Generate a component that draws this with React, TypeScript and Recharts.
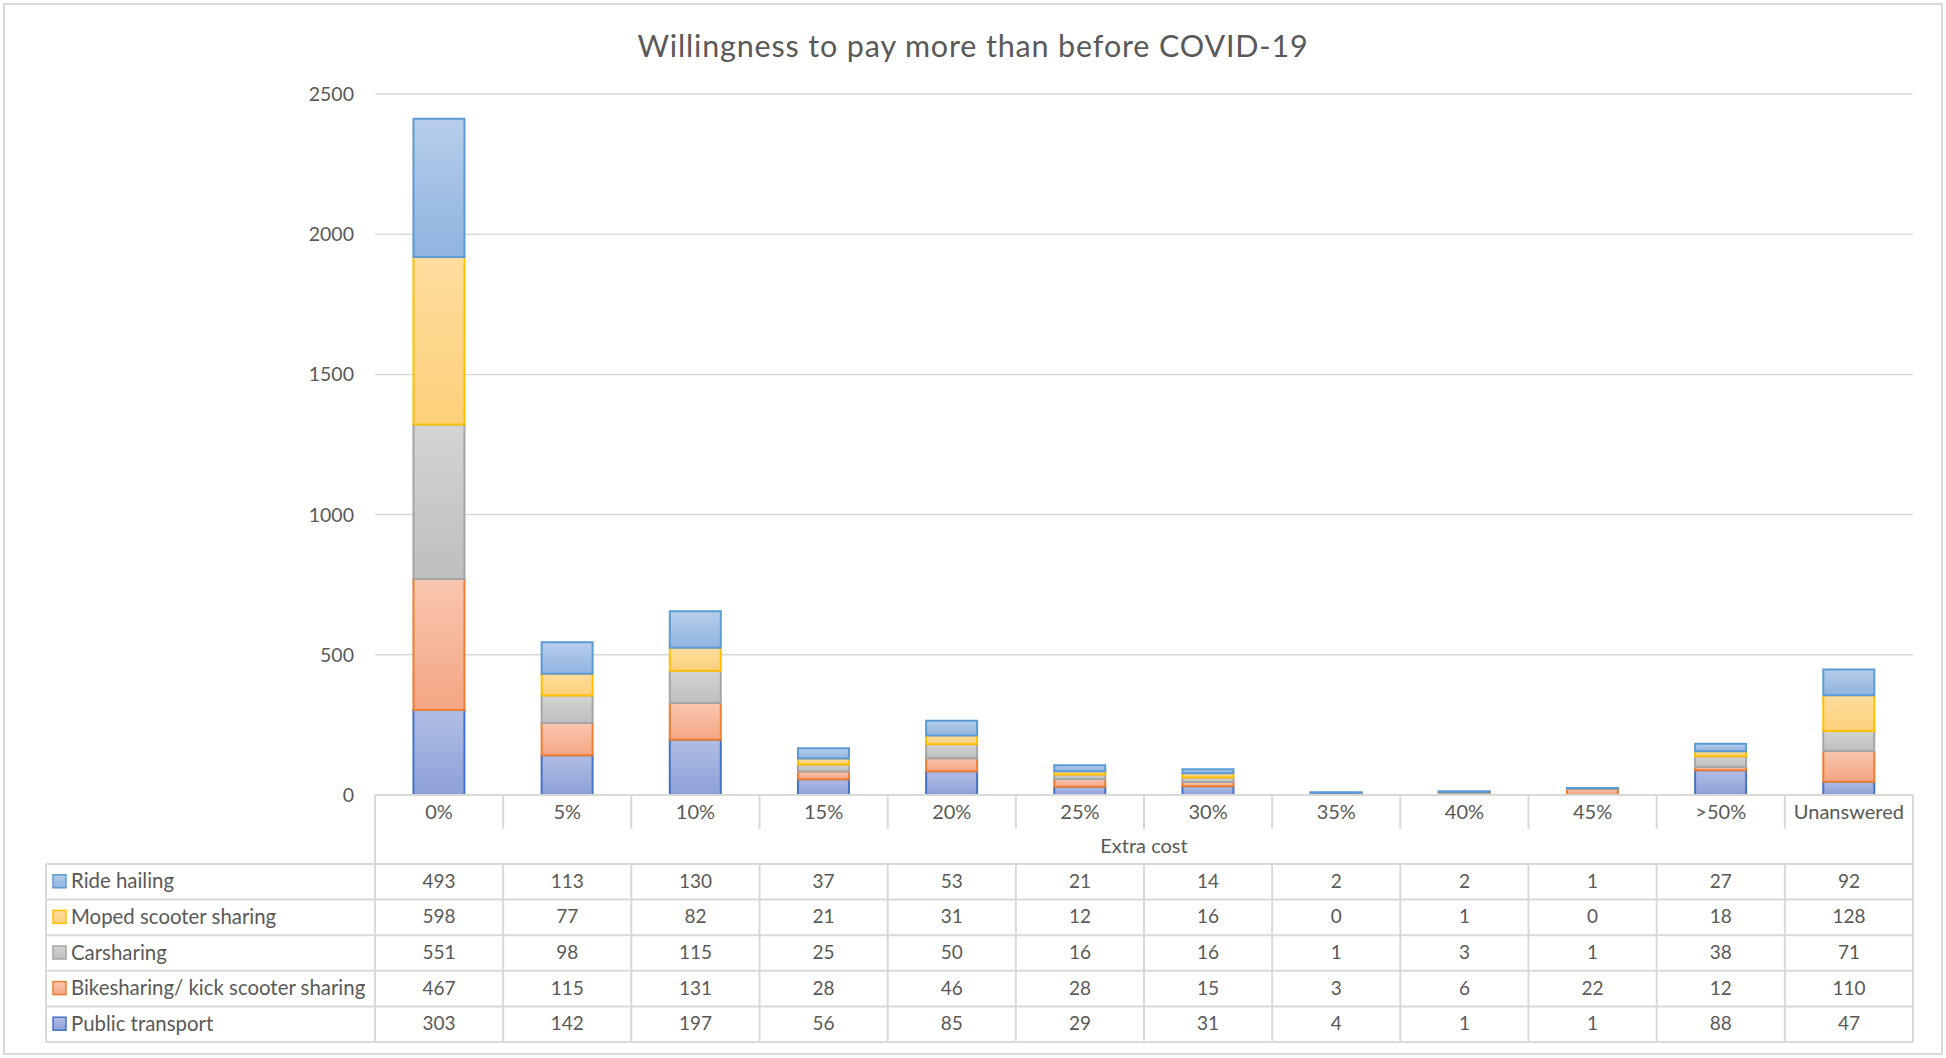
import { BarChart, Bar, XAxis, YAxis, CartesianGrid } from 'recharts';

const categories = ['0%', '5%', '10%', '15%', '20%', '25%', '30%', '35%', '40%', '45%', '>50%', 'Unanswered'];
const rideHailing = [493, 113, 130, 37, 53, 21, 14, 2, 2, 1, 27, 92];
const mopedSharing = [598, 77, 82, 21, 31, 12, 16, 0, 1, 0, 18, 128];
const carsharing = [551, 98, 115, 25, 50, 16, 16, 1, 3, 1, 38, 71];
const bikesharing = [467, 115, 131, 28, 46, 28, 15, 3, 6, 22, 12, 110];
const publicTransport = [303, 142, 197, 56, 85, 29, 31, 4, 1, 1, 88, 47];
const yTicks = [0, 500, 1000, 1500, 2000, 2500];

// stacking order, bottom to top
const series = [
    { key: 'pt', name: 'Public transport', values: publicTransport, stroke: '#4472C4', top: '#B0BDE4', bottom: '#8DA1D8' },
    { key: 'bike', name: 'Bikesharing/ kick scooter sharing', values: bikesharing, stroke: '#ED7D31', top: '#F9C7AF', bottom: '#F4A583' },
    { key: 'car', name: 'Carsharing', values: carsharing, stroke: '#A5A5A5', top: '#D4D4D4', bottom: '#BEBEBE' },
    { key: 'moped', name: 'Moped scooter sharing', values: mopedSharing, stroke: '#FFC000', top: '#FEDD9E', bottom: '#FDD07A' },
    { key: 'ride', name: 'Ride hailing', values: rideHailing, stroke: '#5B9BD5', top: '#B6CEEA', bottom: '#90B3E0' },
];
const tableRows = [...series].reverse();

const data = categories.map((cat, i) => {
    const row: any = { cat };
    series.forEach(s => { row[s.key] = s.values[i]; });
    return row;
});

const W = 1946;
const H = 1058;
const plotLeft = 375;
const plotRight = 1913;
const plotBottom = 795;
const band = (plotRight - plotLeft) / categories.length;
const tableTop = 864;
const rowH = 35.6;
const tableLeft = 46;
const tableBottom = tableTop + rowH * tableRows.length;
const grid = '#D9D9D9';
const textColor = '#595959';
const font = 'Lato, "Open Sans", sans-serif';

function CatTick(props: any) {
    const { x, payload, index } = props;
    const i = index ?? payload.index;
    const left = x - band / 2;
    return (
        <g>
            {i > 0 && <line x1={left} x2={left} y1={plotBottom} y2={829} stroke={grid} strokeWidth={2} />}
            {i > 0 && <line x1={left} x2={left} y1={tableTop} y2={tableBottom} stroke={grid} strokeWidth={2} />}
            <text x={x} y={811} textAnchor="middle" dominantBaseline="central" fill={textColor} fontSize={20} fontFamily={font}>
                {payload.value}
            </text>
            {tableRows.map((s, r) => (
                <text key={s.key} x={x} y={tableTop + rowH * r + rowH / 2 - 1.5} textAnchor="middle" dominantBaseline="central"
                    fill={textColor} fontSize={19} fontFamily={font}>
                    {s.values[i]}
                </text>
            ))}
        </g>
    );
}

export default function App() {
    return (
        <div style={{ position: 'absolute', left: 0, top: 0, width: W, height: H, background: '#fff' }}>
            <div style={{ position: 'absolute', left: 3, top: 3, width: 1940, height: 1052, border: `2px solid ${grid}`, boxSizing: 'border-box' }} />
            <div style={{ position: 'absolute', left: 0, top: 0 }}>
                <BarChart width={W} height={H} data={data} margin={{ top: 94, right: W - plotRight, bottom: H - plotBottom - 60, left: plotLeft - 60 }}
                    barCategoryGap="30%">
                    <defs>
                        {series.map(s => (
                            <linearGradient key={s.key} id={`grad-${s.key}`} x1="0" y1="0" x2="0" y2="1">
                                <stop offset="0%" stopColor={s.top} />
                                <stop offset="100%" stopColor={s.bottom} />
                            </linearGradient>
                        ))}
                    </defs>
                    <CartesianGrid vertical={false} stroke={grid} strokeWidth={1.5} />
                    <XAxis dataKey="cat" height={60} axisLine={false} tickLine={false} interval={0} tick={<CatTick />} />
                    <YAxis width={60} domain={[0, 2500]} ticks={yTicks} axisLine={false} tickLine={false} tickMargin={15}
                        tick={{ fill: textColor, fontSize: 19.5, fontFamily: font }} />
                    {series.map(s => (
                        <Bar key={s.key} dataKey={s.key} name={s.name} stackId="a" fill={`url(#grad-${s.key})`}
                            stroke={s.stroke} strokeWidth={2} isAnimationActive={false} />
                    ))}
                </BarChart>
            </div>
            <svg width={W} height={H} style={{ position: 'absolute', left: 0, top: 0, pointerEvents: 'none' }}>
                <defs>
                    {tableRows.map(s => (
                        <linearGradient key={s.key} id={`legend-${s.key}`} x1="0" y1="0" x2="0" y2="1">
                            <stop offset="0%" stopColor={s.top} />
                            <stop offset="100%" stopColor={s.bottom} />
                        </linearGradient>
                    ))}
                </defs>
                <text x={W / 2} y={45} textAnchor="middle" dominantBaseline="central" fill={textColor} fontSize={30.5}
                    fontFamily={font} letterSpacing={0.85}>
                    Willingness to pay more than before COVID-19
                </text>
                <text x={(plotLeft + plotRight) / 2} y={845} textAnchor="middle" dominantBaseline="central" fill={textColor}
                    fontSize={20} fontFamily={font}>
                    Extra cost
                </text>
                <line x1={plotLeft} x2={plotRight} y1={plotBottom} y2={plotBottom} stroke={grid} strokeWidth={2} />
                <line x1={plotLeft} x2={plotLeft} y1={plotBottom} y2={tableBottom} stroke={grid} strokeWidth={2} />
                <line x1={plotRight} x2={plotRight} y1={plotBottom} y2={tableBottom} stroke={grid} strokeWidth={2} />
                <line x1={tableLeft} x2={tableLeft} y1={tableTop} y2={tableBottom} stroke={grid} strokeWidth={2} />
                {tableRows.map((s, r) => (
                    <line key={`h-${s.key}`} x1={tableLeft} x2={plotRight} y1={tableTop + rowH * r} y2={tableTop + rowH * r}
                        stroke={grid} strokeWidth={2} />
                ))}
                <line x1={tableLeft} x2={plotRight} y1={tableBottom} y2={tableBottom} stroke={grid} strokeWidth={2} />
                {tableRows.map((s, r) => {
                    const cy = tableTop + rowH * r + rowH / 2;
                    return (
                        <g key={`lg-${s.key}`}>
                            <rect x={53} y={cy - 7} width={13} height={13} fill={`url(#legend-${s.key})`} stroke={s.stroke} strokeWidth={1.5} />
                            <text x={71} y={cy - 1.5} dominantBaseline="central" fill={textColor} fontSize={20.4} fontFamily={font}>
                                {s.name}
                            </text>
                        </g>
                    );
                })}
            </svg>
        </div>
    );
}
